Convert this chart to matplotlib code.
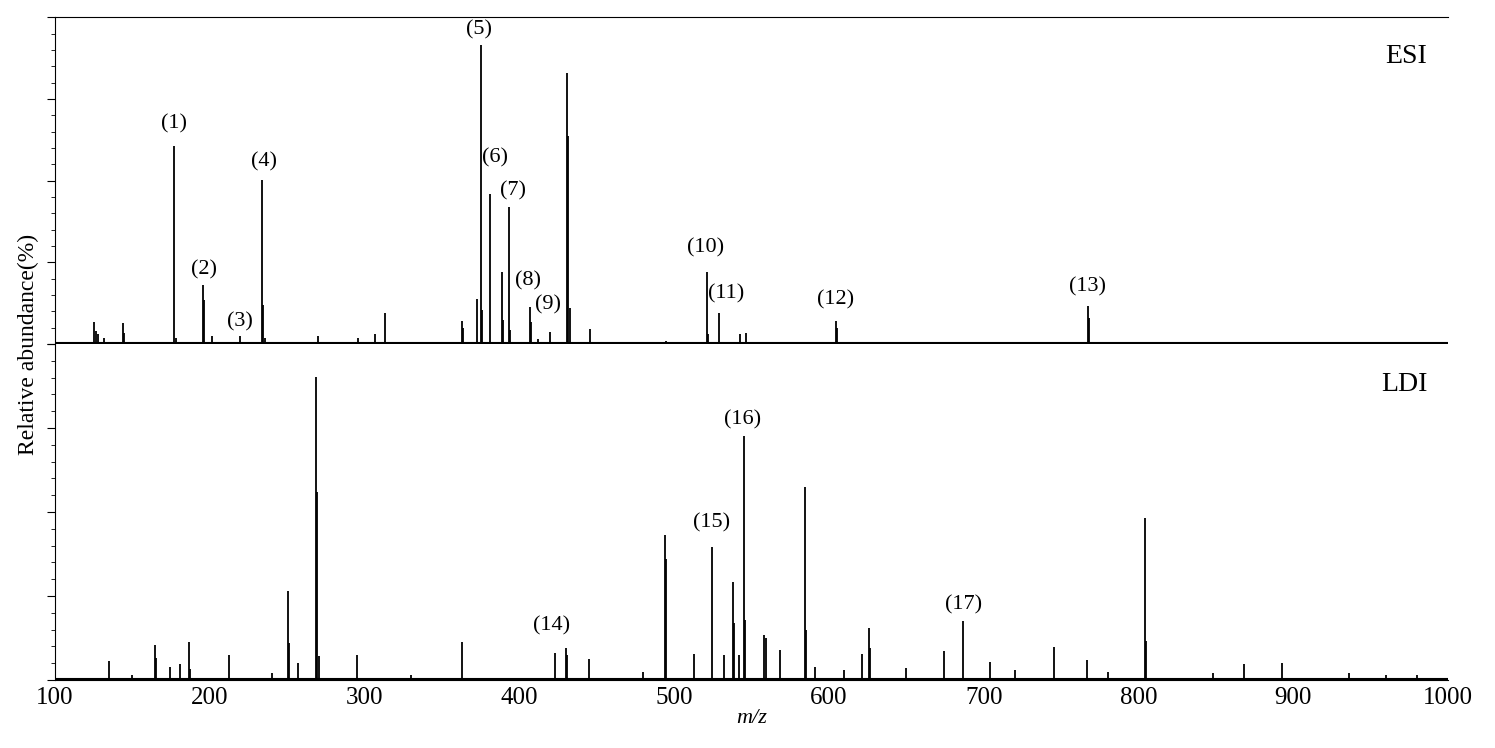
import numpy as np
import matplotlib.pyplot as plt
from matplotlib.ticker import MultipleLocator

plt.rcParams['font.family'] = ['Liberation Serif', 'DejaVu Serif']

# ESI spectrum (m/z, relative abundance)
esi_mz = [125.2, 126.5, 127.8, 131.7, 143.9, 144.5, 176.9, 178.2, 195.6, 196.2,
          201.4, 219.5, 233.7, 234.4, 235.7, 269.9, 295.7, 307.0, 313.2,
          362.7, 363.5, 372.8, 375.2, 376.0, 381.0, 389.0, 389.7, 393.1, 394.0,
          406.8, 407.4, 412.0, 420.0, 430.5, 431.2, 432.5, 445.6, 494.5,
          521.2, 521.9, 528.9, 542.6, 546.4, 604.5, 605.1, 671.0,
          767.3, 767.9, 868.0, 893.0]
esi_ab = [6.7, 4.0, 3.0, 2.0, 6.5, 3.5, 60.6, 2.0, 18.0, 13.5,
          2.5, 2.4, 50.2, 12.0, 2.0, 2.5, 2.0, 3.0, 9.5,
          7.0, 5.0, 13.8, 91.4, 10.4, 46.0, 22.0, 7.3, 41.9, 4.3,
          11.3, 6.7, 1.5, 3.6, 82.9, 63.6, 11.0, 4.6, 1.0,
          22.0, 3.0, 9.5, 3.0, 3.4, 7.0, 5.0, 0.6,
          11.6, 8.0, 0.5, 0.5]

# LDI spectrum
ldi_mz = [134.9, 164.6, 165.2, 174.3, 180.8, 186.6, 187.2, 212.4, 250.5, 251.1,
          256.9, 268.6, 269.2, 270.5, 295.1, 362.9, 423.0, 430.1, 430.8, 445.0,
          494.1, 494.7, 512.8, 524.4, 532.2, 538.0, 538.6, 541.8, 545.1, 545.7,
          558.0, 559.3, 568.3, 584.5, 585.1, 591.0, 621.3, 625.8, 626.5, 674.3,
          686.6, 704.0, 745.4, 766.7, 804.1, 804.7, 868.3, 892.8, 848.0, 936.0,
          150.0, 240.0, 330.0, 480.0, 610.0, 650.0, 720.0, 780.0, 960.0, 980.0]
ldi_ab = [5.7, 10.4, 6.5, 3.9, 4.8, 11.3, 3.3, 7.4, 26.5, 11.0,
          5.0, 90.2, 56.0, 7.0, 7.4, 11.3, 8.0, 9.5, 7.5, 6.3,
          43.2, 36.0, 7.7, 39.6, 7.4, 29.2, 17.0, 7.4, 72.6, 17.9,
          13.4, 12.5, 9.0, 57.4, 15.0, 4.0, 7.7, 15.5, 9.5, 8.6,
          17.6, 5.4, 9.8, 6.0, 48.2, 11.6, 4.8, 5.1, 2.0, 2.0,
          1.5, 2.0, 1.5, 2.5, 3.0, 3.5, 3.0, 2.5, 1.5, 1.5]

esi_labels = ['(1)', '(2)', '(3)', '(4)', '(5)', '(6)', '(7)', '(8)', '(9)',
              '(10)', '(11)', '(12)', '(13)']
esi_lab_x = [176.9, 196.2, 219.5, 235.0, 373.9, 384.2, 395.9, 405.6, 418.5,
             520.5, 533.5, 604.5, 767.3]
esi_lab_y = [67.3, 22.6, 6.7, 55.7, 96.0, 57.0, 47.0, 19.3, 11.9, 29.4, 15.3, 13.5, 17.4]

ldi_labels = ['(14)', '(15)', '(16)', '(17)']
ldi_lab_x = [421.1, 524.4, 544.4, 687.2]
ldi_lab_y = [16.1, 46.7, 77.4, 22.3]

fig = plt.figure(figsize=(14.95, 7.48), dpi=100)
ax1 = fig.add_axes([0.0368, 0.540, 0.9318, 0.437])
ax2 = fig.add_axes([0.0368, 0.0909, 0.9318, 0.4491])

for ax, mz, ab, labs, lx, ly, name in [
        (ax1, esi_mz, esi_ab, esi_labels, esi_lab_x, esi_lab_y, 'ESI'),
        (ax2, ldi_mz, ldi_ab, ldi_labels, ldi_lab_x, ldi_lab_y, 'LDI')]:
    ax.vlines(mz, 0, ab, color='black', linewidth=1.3)
    ax.axhline(0.3, color='black', linewidth=1.5)
    for t, x, y in zip(labs, lx, ly):
        ax.text(x, y, t, ha='center', va='center', fontsize=16)
    ax.text(0.985, 0.88, name, transform=ax.transAxes, ha='right',
            va='center', fontsize=20)
    ax.set_xlim(100, 1000)
    ax.set_ylim(0, 100)
    ax.yaxis.set_major_locator(MultipleLocator(25))
    ax.yaxis.set_minor_locator(MultipleLocator(5))
    ax.tick_params(axis='y', which='major', length=6, labelleft=False)
    ax.tick_params(axis='y', which='minor', length=3)
    ax.spines['right'].set_visible(False)

ax1.set_xticks([])
ax1.spines['bottom'].set_visible(False)
ax2.spines['top'].set_visible(False)
ax2.set_xticks(np.arange(100, 1001, 100))
ax2.tick_params(axis='x', labelsize=18, length=0, pad=5)
ax2.set_xlabel('m/z', style='italic', fontsize=16, labelpad=0)
fig.text(0.019, 0.54, 'Relative abundance(%)', rotation=90, ha='center',
         va='center', fontsize=17)

fig.savefig('out.png', dpi=100)
